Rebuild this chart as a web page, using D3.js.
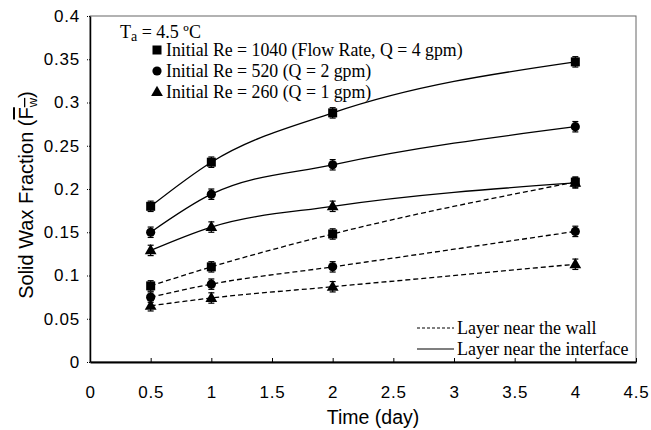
<!DOCTYPE html>
<head>
  <meta charset="utf-8" />
  <script src="https://d3js.org/d3.v7.min.js"></script>
  <style>
    body { margin: 0; background: #fff; }
  </style>
</head>
<body>
<div id="chart"></div>
<script>

// data
var days = [0.5, 1, 2, 4];
var re1040Interface = [0.180, 0.231, 0.288, 0.347];
var re520Interface  = [0.150, 0.194, 0.228, 0.272];
var re260Interface  = [0.129, 0.156, 0.180, 0.207];
var re1040Wall = [0.088, 0.110, 0.148, 0.208];
var re520Wall  = [0.075, 0.090, 0.110, 0.151];
var re260Wall  = [0.065, 0.074, 0.087, 0.113];
var errBar = 0.006;
var xTicks = [0, 0.5, 1, 1.5, 2, 2.5, 3, 3.5, 4, 4.5];
var yTicks = [0, 0.05, 0.1, 0.15, 0.2, 0.25, 0.3, 0.35, 0.4];
var legendLabels = ["Initial Re = 1040 (Flow Rate, Q = 4 gpm)", "Initial Re = 520 (Q = 2 gpm)", "Initial Re = 260 (Q = 1 gpm)"];
var markers = ["square", "circle", "triangle"];

var series = [
  {vals: re1040Interface, marker: "square", dash: false},
  {vals: re520Interface, marker: "circle", dash: false},
  {vals: re260Interface, marker: "triangle", dash: false},
  {vals: re1040Wall, marker: "square", dash: true},
  {vals: re520Wall, marker: "circle", dash: true},
  {vals: re260Wall, marker: "triangle", dash: true}
];

var W = 651, H = 430;
var margin = {top: 16, right: 15, bottom: 68, left: 90},
    width = W - margin.left - margin.right,
    height = H - margin.top - margin.bottom;

var svg = d3.select("#chart").append("svg")
  .attr("width", W).attr("height", H)
  .style("font-family", "'Liberation Sans', Arial, sans-serif");

var g = svg.append("g").attr("transform", "translate(" + margin.left + "," + margin.top + ")");

var x = d3.scaleLinear().domain([0, 4.5]).range([0, width]);
var y = d3.scaleLinear().domain([0, 0.4]).range([height, 0]);

// frame
g.append("rect").attr("x", 0).attr("y", 0).attr("width", width).attr("height", height)
  .attr("fill", "none").attr("stroke", "#666").attr("stroke-width", 1);

// x axis
var xAxis = g.append("g").attr("transform", "translate(0," + height + ")")
  .call(d3.axisBottom(x).tickValues(xTicks).tickSizeInner(-4).tickSizeOuter(0).tickPadding(24)
    .tickFormat(function(d) { return d; }));
xAxis.select(".domain").attr("stroke", "#000").attr("stroke-width", 2);
xAxis.selectAll(".tick line").attr("stroke", "#000");
xAxis.selectAll("text").style("font-size", "17px").style("letter-spacing", "0.8px").attr("fill", "#000");

// y axis
var yAxis = g.append("g")
  .call(d3.axisLeft(y).tickValues(yTicks).tickSizeInner(4).tickSizeOuter(0).tickPadding(6)
    .tickFormat(function(d) { return d; }));
yAxis.select(".domain").attr("stroke", "#000").attr("stroke-width", 1.5);
yAxis.selectAll(".tick line").attr("stroke", "#000").attr("stroke-dasharray", "1,1");
yAxis.selectAll("text").style("font-size", "17px").style("letter-spacing", "0.8px").attr("fill", "#000");

// axis titles
svg.append("text").attr("x", 373).attr("y", 424).attr("text-anchor", "middle")
  .style("font-size", "19.5px").text("Time (day)");

var yt = svg.append("text").attr("transform", "translate(33,195) rotate(-90)")
  .attr("text-anchor", "middle").style("font-size", "20px");
yt.append("tspan").text("Solid Wax Fraction (");
yt.append("tspan").text("F").style("text-decoration", "overline");
yt.append("tspan").text("w").attr("font-size", "13px").attr("dy", 4).style("text-decoration", "overline");
yt.append("tspan").text(")").attr("dy", -4);

function drawMarker(sel, type, cx, cy) {
  if (type === "square") {
    sel.append("rect").attr("x", cx - 4.5).attr("y", cy - 4.5).attr("width", 9).attr("height", 9).attr("fill", "#000");
  } else if (type === "circle") {
    sel.append("circle").attr("cx", cx).attr("cy", cy).attr("r", 4.6).attr("fill", "#000");
  } else {
    sel.append("path").attr("d", d3.symbol().type(d3.symbolTriangle).size(60)()).attr("transform", "translate(" + cx + "," + (cy + 0.5) + ")").attr("fill", "#000");
  }
}

var line = d3.line().x(function(d, i) { return x(days[i]); }).y(function(d) { return y(d); })
  .curve(d3.curveMonotoneX);

series.forEach(function(s) {
  g.append("path").datum(s.vals).attr("d", line).attr("fill", "none").attr("stroke", "#000")
    .attr("stroke-width", 1.3).attr("stroke-dasharray", s.dash ? "5,3" : null);
  s.vals.forEach(function(v, i) {
    var cx = x(days[i]);
    var eb = g.append("g").attr("stroke", "#000").attr("stroke-width", 1.2);
    eb.append("line").attr("x1", cx).attr("x2", cx).attr("y1", y(v - errBar)).attr("y2", y(v + errBar));
    eb.append("line").attr("x1", cx - 3).attr("x2", cx + 3).attr("y1", y(v - errBar)).attr("y2", y(v - errBar));
    eb.append("line").attr("x1", cx - 3).attr("x2", cx + 3).attr("y1", y(v + errBar)).attr("y2", y(v + errBar));
    drawMarker(g, s.marker, cx, y(v));
  });
});

// legend (serif)
var leg = svg.append("g").style("font-family", "'Liberation Serif', 'Times New Roman', serif");
var ta = leg.append("text").attr("x", 120).attr("y", 38).style("font-size", "18px");
ta.append("tspan").text("T");
ta.append("tspan").text("a").attr("font-size", "14px").attr("dy", 3);
ta.append("tspan").text(" = 4.5 \u00BAC").attr("dy", -3);

legendLabels.forEach(function(l, i) {
  var cy = 50 + i * 21;
  drawMarker(leg, markers[i], 157, cy);
  leg.append("text").attr("x", 166).attr("y", cy + 6).style("font-size", "17.8px").text(l);
});

var legLines = [{label: "Layer near the wall", dash: true}, {label: "Layer near the interface", dash: false}];
legLines.forEach(function(l, i) {
  var cy = 328 + i * 21;
  leg.append("line").attr("x1", 417).attr("x2", 454).attr("y1", cy).attr("y2", cy)
    .attr("stroke", "#000").attr("stroke-width", 1.2).attr("stroke-dasharray", l.dash ? "3,2" : null);
  leg.append("text").attr("x", 457).attr("y", cy + 6).style("font-size", "18px").text(l.label);
});

</script>
</body>
</html>
